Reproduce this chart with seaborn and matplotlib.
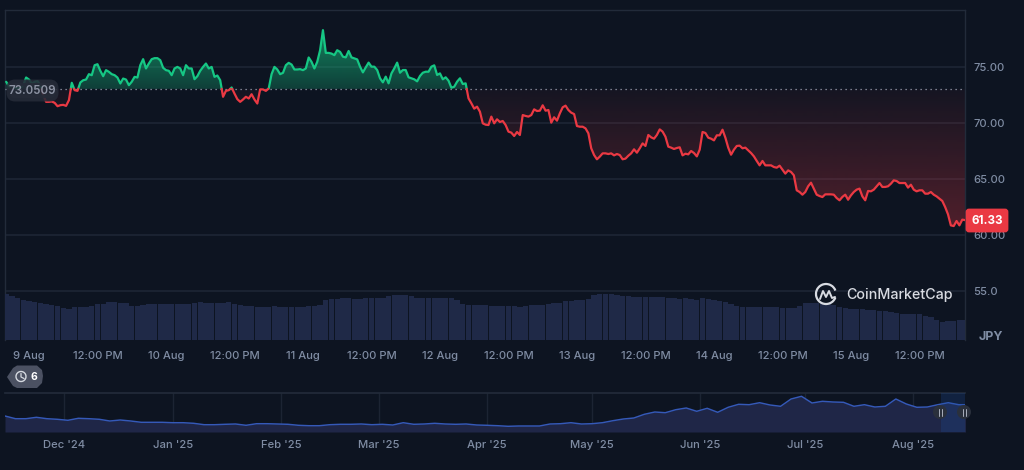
import numpy as np
import pandas as pd
import seaborn as sns
import matplotlib
matplotlib.use("Agg")
import matplotlib.pyplot as plt
from matplotlib.patches import FancyBboxPatch, Polygon, Circle, Arc
from matplotlib.colors import to_rgb

# JPY price, half-hourly, starting 8 Aug 20:00
price_jpy = [
 73.68,73.29,73.17,73.17,73.08,73.17,73.38,74.06,73.88,73.53,73.68,73.74,73.38,72.49,71.89,71.89,71.92,71.80,71.50,71.59,
 71.62,71.53,72.04,73.59,72.93,72.87,73.62,73.82,73.88,74.36,74.27,75.16,75.25,74.66,74.18,74.72,74.57,74.36,74.27,74.06,
 73.53,73.97,73.88,73.38,73.68,74.12,74.06,75.16,75.70,74.87,75.31,75.70,75.79,75.79,75.61,74.93,74.72,74.66,74.27,74.87,
 75.01,74.87,74.27,75.16,74.87,74.87,73.91,74.18,74.66,75.01,75.31,74.87,75.01,74.12,74.24,73.82,72.34,72.87,72.93,73.17,
 72.63,72.13,71.89,72.10,72.34,72.19,72.57,72.10,71.74,73.00,73.00,72.87,73.08,74.36,75.01,74.78,74.36,74.48,75.16,75.37,
 75.22,74.78,74.78,74.81,74.72,74.87,75.85,75.46,74.87,75.46,76.50,78.29,76.26,76.26,76.20,76.06,76.50,76.35,75.92,75.86,
 76.43,75.86,75.77,75.68,75.03,74.52,74.97,75.39,75.03,75.03,74.73,73.99,73.63,74.14,73.54,74.43,74.88,75.39,74.49,74.73,
 74.73,74.08,73.99,73.90,73.72,74.20,74.49,74.58,74.58,75.03,75.15,74.29,74.43,73.90,74.08,73.78,73.15,73.24,73.69,73.99,
 73.48,73.54,72.20,71.76,71.28,71.46,71.01,69.97,69.85,69.82,70.57,69.97,70.33,70.09,70.18,69.82,69.23,69.14,68.84,69.20,
 68.93,70.71,70.63,70.57,70.71,71.22,71.07,71.10,71.58,71.10,71.16,70.03,70.51,70.21,70.86,71.40,71.55,71.16,70.92,70.80,
 69.73,69.67,69.67,69.52,69.08,67.74,67.14,66.76,67.00,67.29,67.29,67.23,67.29,67.11,67.23,67.14,66.76,66.82,67.08,67.29,
 67.65,67.35,67.74,68.18,67.95,68.93,68.72,68.60,68.93,69.43,69.23,68.78,67.89,67.80,67.68,67.77,67.83,67.11,67.26,67.20,
 67.50,67.32,67.02,67.62,69.20,69.11,68.69,68.60,68.45,68.90,68.90,69.40,68.69,67.80,67.17,67.62,67.95,67.98,67.74,67.80,
 67.56,67.32,67.02,66.61,66.22,66.61,66.22,66.22,66.22,66.07,66.01,66.19,65.83,65.48,65.77,65.63,65.33,63.99,63.84,63.60,
 63.84,64.35,64.67,64.14,63.60,63.48,63.39,63.63,63.63,63.63,63.60,63.30,63.10,63.40,63.60,63.15,63.54,63.84,64.05,64.14,
 63.45,63.10,63.93,63.90,64.05,64.35,64.64,64.29,64.29,64.35,64.58,64.88,64.82,64.64,64.64,64.64,64.23,64.49,64.05,63.90,
 63.99,63.99,63.69,63.69,63.84,63.60,63.45,63.24,63.04,62.50,61.85,60.86,60.80,61.25,60.86,61.37,61.33,
]
reference_price = 73.0509
last_price = 61.33

# Hourly traded volume, starting 8 Aug 20:00 (relative units)
volume = [
 46,44,41.7,40,39,38,36.7,35.7,35,33.7,32.3,31.3,32.7,33,33,34,35.7,36,37.7,37.7,37.3,37.3,34.3,34.3,35.3,36,36,36,36,36,36,
 36.3,36.3,37.3,37.7,37,37,37,37.3,37.7,36.3,35.3,34,33.7,33,32.7,32.7,34.3,33.3,33.3,33.3,33,33,33.7,33.7,35,40,40.7,41,
 41.7,41.7,41,41.3,41.7,41.7,41.7,42,43.7,44.7,45,45,44.3,42,41.7,41.7,41.7,42,41.7,41.7,40,35.7,35,35,35,34.7,34.3,34.3,34,
 34,33.7,33,34.3,34.7,34.7,35,36.3,37,37,38.7,39.3,40,40.3,41.3,45.3,46,46,45.7,45.3,44.3,43.7,42.7,42.7,43.3,43.3,43,42.7,
 42.3,42,41.3,41.7,40.7,40,41.7,40.7,40,39,37.7,35.7,34,33.3,33,33,33.3,33,33,32.7,32,32,32,34.3,36.7,36.7,36.7,36.7,36.7,
 35.3,32.7,31.7,31.3,31,30.7,30.3,29.7,29.3,29,28.3,27,26.3,26,26,25.7,24.3,23.3,20,18.3,18.7,19.3,19.7,20,
]

# Long-range overview series, one reading every three days from 14 Nov 2024 (relative units)
overview = [
 16,13.3,13.3,14.7,13.3,12.7,11.7,13.7,13.3,12.7,11,12,11,9.7,9.7,9.7,9.3,9.3,8.7,7.3,7.3,7.7,8,6.7,8.3,8.3,8,7.7,6.7,6.3,6.3,7.3,
 7.7,7.7,8,7.3,7.7,7,9.3,7.7,8,8.7,8,7.7,8,7,6.7,6.3,5.7,6,6,6,8,8.3,9.3,8,8.3,9.3,11.3,13,14,17.7,20,19.3,22.3,
 24,20.7,23.7,19.7,24.7,27.7,27.3,29.3,27,25.7,33,35.7,29,30.7,30,29.7,25.7,27.3,25,25.7,33,28,24.7,25,27.3,29.3,27.3,27.3,
]

price_ticks = [75, 70, 65, 60]
volume_tick_label = "55.0"
day_ticks = list(range(0, 168, 12))
day_labels = ["9 Aug", "12:00 PM", "10 Aug", "12:00 PM", "11 Aug", "12:00 PM", "12 Aug",
              "12:00 PM", "13 Aug", "12:00 PM", "14 Aug", "12:00 PM", "15 Aug", "12:00 PM"]
month_dates = ["2024-12-01", "2025-01-01", "2025-02-01", "2025-03-01", "2025-04-01",
               "2025-05-01", "2025-06-01", "2025-07-01", "2025-08-01"]
month_labels = ["Dec '24", "Jan '25", "Feb '25", "Mar '25", "Apr '25", "May '25", "Jun '25", "Jul '25", "Aug '25"]

BG = "#0d1421"
GRID = "#1c2433"
FRAME = "#222b3a"
TICK = "#7f8ca3"
GREEN = "#16c784"
RED = "#ea3943"
W, H = 1024, 470

sns.set_theme(style="dark", rc={"axes.facecolor": BG, "figure.facecolor": BG, "savefig.facecolor": BG})
plt.rcParams["font.family"] = ["Inter", "DejaVu Sans"]
plt.rcParams["font.weight"] = "medium"


def panel(fig, left, top, right, bottom):
    return fig.add_axes([left / W, 1 - bottom / H, (right - left) / W, (bottom - top) / H])


fig = plt.figure(figsize=(W / 100, H / 100), dpi=100)

# Split the price path where it crosses the reference level, so each run gets its own colour
hours = -4.0 + 0.5 * np.arange(len(price_jpy))
prices = np.array(price_jpy)
t_all, p_all, seg_all, side_all = [], [], [], []
segment = 0
for i in range(len(prices)):
    side = "up" if prices[i] >= reference_price else "down"
    if i:
        prev = prices[i - 1]
        if (prev >= reference_price) != (prices[i] >= reference_price):
            f = (reference_price - prev) / (prices[i] - prev)
            tc = hours[i - 1] + f * 0.5
            t_all.append(tc); p_all.append(reference_price); seg_all.append(segment)
            side_all.append("up" if prev >= reference_price else "down")
            segment += 1
            t_all.append(tc); p_all.append(reference_price); seg_all.append(segment); side_all.append(side)
    t_all.append(hours[i]); p_all.append(prices[i]); seg_all.append(segment); side_all.append(side)
frame = pd.DataFrame({"hour": t_all, "price": p_all, "segment": seg_all, "side": side_all})

ax = panel(fig, 5, 10, 965, 340)
x_lim = (-4.2, 163.98)
y_lim = (50.625, 80.09)
ax.set_xlim(x_lim)
ax.set_ylim(y_lim)

for tick in price_ticks + [55]:
    ax.axhline(tick, color=GRID, lw=1.3, zorder=1)


def gradient_fill(axis, t, lower, upper, colour, a_base, a_far, v_base, v_far):
    rgb = to_rgb(colour)
    ramp = np.linspace(y_lim[1], y_lim[0], 330)
    alpha = np.clip(a_base + (a_far - a_base) * (ramp - v_base) / (v_far - v_base), 0, 1)
    img = np.zeros((330, 1, 4))
    img[..., 0], img[..., 1], img[..., 2] = rgb
    img[:, 0, 3] = alpha
    poly = axis.fill_between(t, lower, upper, color="none", lw=0)
    im = axis.imshow(img, extent=(*x_lim, *y_lim), aspect="auto", origin="upper", zorder=2, interpolation="bilinear")
    im.set_clip_path(poly.get_paths()[0], transform=axis.transData)


t_ext = np.array(t_all)
p_ext = np.array(p_all)
gradient_fill(ax, t_ext, reference_price, np.maximum(p_ext, reference_price), GREEN, 0.24, 0.62, reference_price, 78.3)
gradient_fill(ax, t_ext, np.minimum(p_ext, reference_price), reference_price, RED, 0.04, 0.30, reference_price, 60.8)
ax.set_xlim(x_lim)
ax.set_ylim(y_lim)

ax.plot(x_lim, [reference_price] * 2, color="#9aa3b2", lw=0.9, ls=(0, (1, 3)), zorder=3)
sns.lineplot(data=frame, x="hour", y="price", hue="side", units="segment", estimator=None,
             palette={"up": GREEN, "down": RED}, legend=False, lw=1.6, ax=ax, zorder=4)

ax.set_xlabel("")
ax.set_ylabel("")
ax.yaxis.tick_right()
ax.set_yticks(price_ticks + [55])
ax.set_yticklabels([f"{t:.2f}" for t in price_ticks] + [volume_tick_label])
ax.set_xticks(day_ticks)
ax.set_xticklabels(day_labels)
ax.tick_params(axis="both", length=0, labelsize=8.1, colors=TICK, pad=6)
ax.tick_params(axis="x", pad=8)
for name, spine in ax.spines.items():
    spine.set_visible(True)
    spine.set_color(FRAME)
    spine.set_linewidth(1.0)
ax.spines["bottom"].set_visible(False)

# Volume columns share the lower strip of the price panel
vol_ax = ax.inset_axes([0, 0, 1, 1], facecolor="none")
vol_hours = -4.0 + np.arange(len(volume))
sns.barplot(x=vol_hours, y=volume, native_scale=True, color="#1f2947", saturation=1, width=0.93,
            edgecolor="none", linewidth=0, ax=vol_ax, legend=False, zorder=2)
vol_ax.set_xlim(x_lim)
vol_ax.set_ylim(0, 330)
vol_ax.set_xticks([])
vol_ax.set_yticks([])
vol_ax.axis("off")

# Overview strip
nav = panel(fig, 5, 393, 965, 432)
dates = pd.date_range("2024-11-14", periods=len(overview), freq="3D")
nav_frame = pd.DataFrame({"date": dates, "level": overview})
nav_lim = (pd.Timestamp("2024-11-14"), pd.Timestamp("2025-08-15 19:00"))
sns.lineplot(data=nav_frame, x="date", y="level", color="#3559b8", lw=1.05, ax=nav, zorder=3)
nav.fill_between(dates, 0, overview, color="#1f2647", lw=0, zorder=2)
nav.set_xlim(nav_lim)
nav.set_ylim(0, 39)
months = pd.to_datetime(month_dates)
for m in months:
    nav.axvline(m, color=GRID, lw=1.0, zorder=1)
nav.axvspan(pd.Timestamp("2025-08-08 19:00"), nav_lim[1], color="#1d4f9e", alpha=0.25, lw=0, zorder=4)
nav.set_xticks(months)
nav.set_xticklabels(month_labels)
nav.set_yticks([])
nav.set_xlabel("")
nav.set_ylabel("")
nav.tick_params(axis="x", length=0, labelsize=8.1, colors=TICK, pad=6)
for name, spine in nav.spines.items():
    spine.set_visible(name == "top")
    spine.set_color(FRAME)

# Callouts and branding, placed in figure pixels
over = fig.add_axes([0, 0, 1, 1], facecolor="none")
over.set_xlim(0, W)
over.set_ylim(H, 0)
over.set_xticks([])
over.set_yticks([])
over.axis("off")

over.add_patch(FancyBboxPatch((10, 83), 45, 15, boxstyle="round,pad=0,rounding_size=5", mutation_aspect=1,
                              fc="#262b38", ec="#262b38", lw=5, alpha=0.88, zorder=5))
over.text(32, 90.5, f"{reference_price:.4f}", color="#8d93a3", fontsize=8.3, fontweight="semibold",
          ha="center", va="center", zorder=6)
over.add_patch(FancyBboxPatch((967, 210), 40, 21, boxstyle="round,pad=0,rounding_size=2",
                              fc=RED, ec=RED, lw=2, zorder=5))
over.text(987, 220.5, f"{last_price:.2f}", color="white", fontsize=8.3, fontweight="bold",
          ha="center", va="center", zorder=6)
over.text(991, 337, "JPY", color=TICK, fontsize=9, fontweight="bold", ha="center", va="center")

# Event marker with history icon
over.add_patch(Polygon([(7, 377), (13, 368), (17, 365.5), (37, 365.5), (42, 370), (43, 376), (42, 383), (37, 388), (17, 388), (13, 386)],
                       closed=True, fc="#4b5162", ec="none", zorder=5))
over.add_patch(Arc((21, 376.5), 10, 10, theta1=0, theta2=360, color="#d5d9e0", lw=1, zorder=6))
over.plot([21, 21, 24], [373.5, 377, 378.5], color="#d5d9e0", lw=0.9, zorder=6)
over.text(34, 376.5, "6", color="white", fontsize=7.5, fontweight="bold", ha="center", va="center", zorder=6)

# Overview range handles
for hx in (940, 964):
    over.add_patch(Circle((hx, 412), 7, fc="#2a303c", ec="none", zorder=6))
    for dx in (-1.5, 1.5):
        over.plot([hx + dx, hx + dx], [408.5, 415.5], color="#a8aebb", lw=0.7, zorder=7)

# Logo
over.add_patch(Arc((826, 294), 20, 20, theta1=20, theta2=340, color="#d8dbe2", lw=1.6, zorder=6))
over.plot([820, 823, 826, 829, 832, 835], [299, 291, 297, 291, 298, 297], color="#d8dbe2", lw=1.4, zorder=6)
over.text(846, 294.5, "CoinMarketCap", color="#d8dbe2", fontsize=10.3, fontweight="medium",
          ha="left", va="center", zorder=6)

fig.savefig("out.png", dpi=100, facecolor=BG)
